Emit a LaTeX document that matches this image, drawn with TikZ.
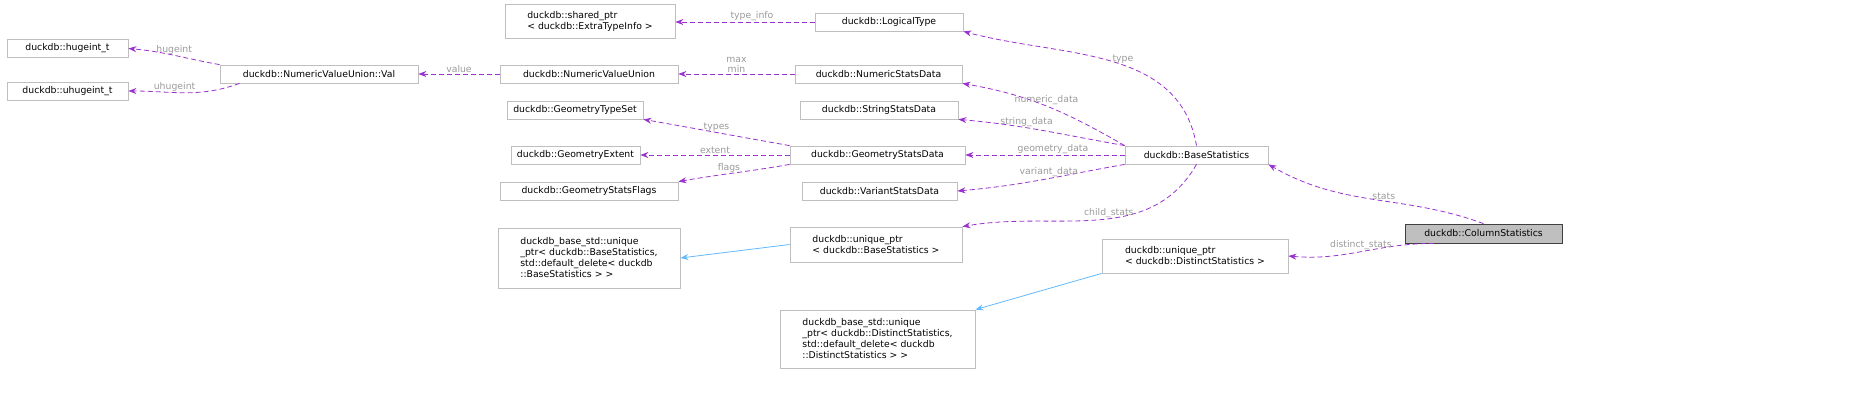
\documentclass[tikz,border=0pt]{standalone}
\usepackage{fontspec}
\setmainfont{DejaVu Sans}
\usetikzlibrary{arrows.meta}
\definecolor{pur}{HTML}{9A32CD}
\definecolor{lblc}{HTML}{9A9A9A}
\definecolor{bord}{HTML}{BFBFBF}
\definecolor{blu}{HTML}{63B8FF}
\begin{document}
\begin{tikzpicture}[x=1pt,y=-1pt,
  box/.style={draw=bord,line width=0.8pt,inner sep=2pt,font=\fontsize{9.3}{11}\selectfont,align=left},
  dep/.style={pur,dashed,dash pattern=on 5pt off 3pt,line width=0.8pt,-{Stealth[length=8pt,width=6pt]}},
  inh/.style={blu,line width=0.8pt,-{Stealth[length=8pt,width=6pt]}},
  lbl/.style={lblc,font=\fontsize{9.3}{10}\selectfont,inner sep=1pt}]
\def\bx#1#2#3#4#5#6{\node[box,minimum width=#4,minimum height=#5] (#1) at (#2,#3) {#6};}
\bx{sp}{590}{21.5}{170}{34}{duckdb::shared\_ptr\\< duckdb::ExtraTypeInfo >}
\bx{lt}{889}{22}{148}{18}{duckdb::LogicalType}
\bx{hi}{67.5}{48.5}{121}{18}{duckdb::hugeint\_t}
\bx{uhi}{67.5}{91}{121}{18}{duckdb::uhugeint\_t}
\bx{val}{319}{74}{198}{18}{duckdb::NumericValueUnion::Val}
\bx{nvu}{589}{74}{178}{18}{duckdb::NumericValueUnion}
\bx{nsd}{878.5}{74}{167}{18}{duckdb::NumericStatsData}
\bx{gts}{575}{110}{136}{18}{duckdb::GeometryTypeSet}
\bx{ssd}{879}{110}{158}{18}{duckdb::StringStatsData}
\bx{ge}{575.5}{155}{129}{18}{duckdb::GeometryExtent}
\bx{gsd}{877.5}{155}{175}{18}{duckdb::GeometryStatsData}
\bx{bs}{1196.5}{155}{143}{18}{duckdb::BaseStatistics}
\bx{gsf}{589}{191}{178}{18}{duckdb::GeometryStatsFlags}
\bx{vsd}{879.5}{191}{155}{18}{duckdb::VariantStatsData}
\bx{up}{876}{244.5}{172}{35}{duckdb::unique\_ptr\\< duckdb::BaseStatistics >}
\bx{bup}{589}{258}{182}{60}{duckdb\_base\_std::unique\\\_ptr< duckdb::BaseStatistics,\\ std::default\_delete< duckdb\\::BaseStatistics > >}
\node[box,draw=black!75,fill=bord,minimum width=157,minimum height=19] (cs) at (1483.5,233.5) {duckdb::ColumnStatistics};
\bx{ud}{1195}{256}{186}{34}{duckdb::unique\_ptr\\< duckdb::DistinctStatistics >}
\bx{bud}{877.5}{339}{195}{58}{duckdb\_base\_std::unique\\\_ptr< duckdb::DistinctStatistics,\\ std::default\_delete< duckdb\\::DistinctStatistics > >}

\draw[dep] (lt.west) -- node[lbl,above,pos=0.45]{type\_info} (sp.east|-0,22);
\draw[dep] (val.north west) to[out=170,in=-5] node[lbl,above]{hugeint} (hi.east);
\draw[dep] (val.south west) ++(20,0) to[out=-160,in=0] node[lbl,above,pos=0.6]{uhugeint} (uhi.east);
\draw[dep] (nvu.west) -- node[lbl,above]{value} (val.east);
\draw[dep] (nsd.west) -- node[lbl,above,align=center,font=\fontsize{9.3}{10}\selectfont]{max\\min} (nvu.east);
\draw[dep] (bs.north) to[out=100,in=-15] node[lbl,above,pos=0.45]{type} (lt.south east);
\draw[dep] (bs.north west) to[out=150,in=-10] node[lbl,above,pos=0.5]{numeric\_data} (nsd.south east);
\draw[dep] (bs.north west) to[out=170,in=-5] node[lbl,above,pos=0.6]{string\_data} (ssd.south east);
\draw[dep] (bs.west) -- node[lbl,above,pos=0.45]{geometry\_data} (gsd.east);
\draw[dep] (bs.south west) to[out=-170,in=5] node[lbl,above,pos=0.45]{variant\_data} (vsd.east);
\draw[dep] (bs.south) to[out=-120,in=10] node[lbl,above,pos=0.45]{child\_stats} (up.north east);
\draw[dep] (gsd.north west) to[out=170,in=-10] node[lbl,above]{types} (gts.south east);
\draw[dep] (gsd.west) -- node[lbl,above]{extent} (ge.east);
\draw[dep] (gsd.south west) to[out=-170,in=10] node[lbl,above,pos=0.55]{flags} (gsf.north east);
\draw[dep] (cs.north) to[out=160,in=-30] node[lbl,above,pos=0.45]{stats} (bs.south east);
\draw[dep] (cs.south) ++(-50,0) to[out=180,in=-5] node[lbl,above,pos=0.5]{distinct\_stats} (ud.east);
\draw[inh] (up.west) -- (bup.east);
\draw[inh] (ud.south west) -- (bud.north east);
\pgfresetboundingbox
\useasboundingbox (0,0) rectangle (1859,409);
\end{tikzpicture}
\end{document}
